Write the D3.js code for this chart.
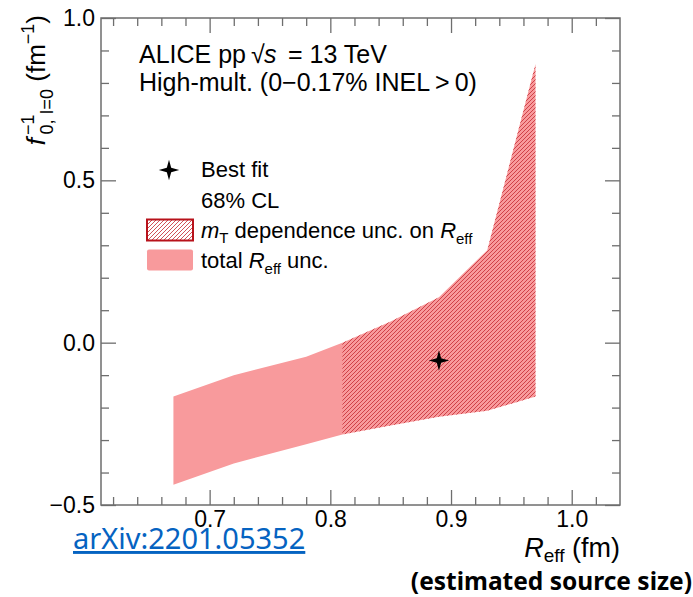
<!DOCTYPE html>
<html>
<head>
<meta charset="utf-8">
<script src="https://cdn.jsdelivr.net/npm/d3@7"></script>
<style>
  body { margin: 0; background: #fff; }
  svg { display: block; }
</style>
</head>
<body>
<div id="chart"></div>
<script>
// Band edges (R_eff in fm, 1/f0 in 1/fm)
const reff = [0.67, 0.72, 0.78, 0.81, 0.85, 0.89, 0.93, 0.97];
const upperEdge = [-0.166, -0.10, -0.043, 0.0, 0.065, 0.14, 0.285, 0.858];
const lowerEdge = [-0.438, -0.372, -0.313, -0.283, -0.255, -0.228, -0.21, -0.166];
const mtStart = 0.81; // hatched part starts here
const bestFit = [{ x: 0.89, y: -0.055 }];

const xMajor = [0.7, 0.8, 0.9, 1.0];
const yMajor = [-0.5, 0.0, 0.5, 1.0];
const xMinor = [0.62, 0.64, 0.66, 0.68, 0.72, 0.74, 0.76, 0.78, 0.82, 0.84, 0.86, 0.88, 0.92, 0.94, 0.96, 0.98, 1.02];
const yMinor = [-0.4, -0.3, -0.2, -0.1, 0.1, 0.2, 0.3, 0.4, 0.6, 0.7, 0.8, 0.9];

const W = 693, H = 597;
const margin = { top: 18, right: 73, bottom: 92, left: 101 };
const innerW = W - margin.left - margin.right;
const innerH = H - margin.top - margin.bottom;

const svg = d3.select("#chart").append("svg")
    .attr("width", W)
    .attr("height", H)
    .style("font-family", "'Liberation Sans', Arial, sans-serif");

const defs = svg.append("defs");
const pat = defs.append("pattern")
    .attr("id", "hatch")
    .attr("patternUnits", "userSpaceOnUse")
    .attr("width", 4)
    .attr("height", 4);
pat.append("path")
    .attr("d", "M-1,1 L1,-1 M0,4 L4,0 M3,5 L5,3")
    .attr("stroke", "#c8323a")
    .attr("stroke-width", 0.85);

const x = d3.scaleLinear().domain([0.61, 1.04]).range([0, innerW]);
const y = d3.scaleLinear().domain([-0.5, 1.0]).range([innerH, 0]);

const g = svg.append("g").attr("transform", `translate(${margin.left},${margin.top})`);

const band = reff.map((r, i) => ({ r, hi: upperEdge[i], lo: lowerEdge[i] }));
const area = d3.area()
    .x(d => x(d.r))
    .y0(d => y(d.lo))
    .y1(d => y(d.hi));

const pink = "#f89a9c";

// total R_eff unc.
g.append("path")
    .datum(band)
    .attr("d", area)
    .attr("fill", pink);

// m_T dependence part, hatched
g.append("path")
    .datum(band.filter(d => d.r >= mtStart))
    .attr("d", area)
    .attr("fill", "url(#hatch)");

// 4-pointed star marker
const star4 = {
    draw(ctx, size) {
        const R = Math.sqrt(size) / 2, r = R * 0.3;
        for (let k = 0; k < 8; k++) {
            const a = k * Math.PI / 4 - Math.PI / 2;
            const rad = k % 2 === 0 ? R : r;
            if (k === 0) ctx.moveTo(rad * Math.cos(a), rad * Math.sin(a));
            else ctx.lineTo(rad * Math.cos(a), rad * Math.sin(a));
        }
        ctx.closePath();
    }
};

g.selectAll(".fit")
    .data(bestFit)
    .join("path")
    .attr("class", "fit")
    .attr("transform", d => `translate(${x(d.x)},${y(d.y)})`)
    .attr("d", d3.symbol().type(star4).size(420))
    .attr("fill", "#000");

// axes
const axisColor = "#6e6e6e";
function styleAxis(sel) {
    sel.select(".domain").remove();
    sel.selectAll("line").attr("stroke", axisColor).attr("stroke-width", 1.3);
    sel.selectAll("text").attr("fill", "#000").style("font-size", "23px")
        .style("font-family", "'Liberation Sans', Arial, sans-serif");
}
const fmtX = d3.format(".1f");
const fmtY = d => d3.format(".1f")(d).replace("-", "\u2212");

g.append("g").attr("transform", `translate(0,${innerH})`)
    .call(d3.axisBottom(x).tickValues(xMajor).tickSize(-15).tickPadding(6).tickFormat(fmtX))
    .call(styleAxis);
g.append("g").attr("transform", `translate(0,${innerH})`)
    .call(d3.axisBottom(x).tickValues(xMinor).tickSize(-8).tickFormat(""))
    .call(styleAxis);
g.append("g")
    .call(d3.axisTop(x).tickValues(xMajor).tickSize(-15).tickFormat(""))
    .call(styleAxis);
g.append("g")
    .call(d3.axisTop(x).tickValues(xMinor).tickSize(-8).tickFormat(""))
    .call(styleAxis);

g.append("g")
    .call(d3.axisLeft(y).tickValues(yMajor).tickSize(-15).tickPadding(6).tickFormat(fmtY))
    .call(styleAxis);
g.append("g")
    .call(d3.axisLeft(y).tickValues(yMinor).tickSize(-8).tickFormat(""))
    .call(styleAxis);
g.append("g").attr("transform", `translate(${innerW},0)`)
    .call(d3.axisRight(y).tickValues(yMajor).tickSize(-15).tickFormat(""))
    .call(styleAxis);
g.append("g").attr("transform", `translate(${innerW},0)`)
    .call(d3.axisRight(y).tickValues(yMinor).tickSize(-8).tickFormat(""))
    .call(styleAxis);

g.append("rect")
    .attr("width", innerW)
    .attr("height", innerH)
    .attr("fill", "none")
    .attr("stroke", axisColor)
    .attr("stroke-width", 1.5);

// header text
const head = svg.append("g").style("font-size", "25px");
const h1 = head.append("text").attr("y", 63);
h1.append("tspan").attr("x", 139).text("ALICE pp");
h1.append("tspan").attr("x", 251).text("\u221A");
h1.append("tspan").attr("x", 264).attr("font-style", "italic").text("s");
h1.append("tspan").attr("x", 288).text("= 13 TeV");
head.append("text").attr("x", 139).attr("y", 91)
    .text("High-mult. (0\u22120.17% INEL\u2009>\u20090)");

// legend
const leg = svg.append("g").style("font-size", "22px");
leg.append("path")
    .attr("transform", "translate(169,170)")
    .attr("d", d3.symbol().type(star4).size(420))
    .attr("fill", "#000");
leg.append("text").attr("x", 201).attr("y", 177).text("Best fit");
leg.append("text").attr("x", 201).attr("y", 208).text("68% CL");

leg.append("rect").attr("x", 147).attr("y", 219.5).attr("width", 46).attr("height", 21)
    .attr("fill", "#fff");
leg.append("rect").attr("x", 147).attr("y", 219.5).attr("width", 46).attr("height", 21)
    .attr("fill", "url(#hatch)").attr("stroke", "#b8121b").attr("stroke-width", 2);
const t3 = leg.append("text").attr("x", 201).attr("y", 238);
t3.append("tspan").attr("font-style", "italic").text("m");
t3.append("tspan").attr("font-size", "15px").attr("dy", 5).text("T");
t3.append("tspan").attr("dy", -5).text(" dependence unc. on ");
t3.append("tspan").attr("font-style", "italic").text("R");
t3.append("tspan").attr("font-size", "15px").attr("dy", 6).text("eff");

leg.append("rect").attr("x", 147).attr("y", 249.5).attr("width", 46).attr("height", 21)
    .attr("rx", 2).attr("fill", pink);
const t4 = leg.append("text").attr("x", 201).attr("y", 268);
t4.append("tspan").text("total ");
t4.append("tspan").attr("font-style", "italic").text("R");
t4.append("tspan").attr("font-size", "15px").attr("dy", 6).text("eff");
t4.append("tspan").attr("dy", -6).text(" unc.");

// axis titles
const yt = svg.append("text")
    .attr("transform", "translate(45,15) rotate(-90)")
    .attr("text-anchor", "end")
    .style("font-size", "26px");
yt.append("tspan").attr("font-style", "italic").text("f");
yt.append("tspan").attr("font-size", "18px").attr("dy", -11).attr("dx", 3).text("\u22121");
yt.append("tspan").attr("font-size", "18px").attr("dy", 19).attr("dx", -20).text("0, I=0");
yt.append("tspan").attr("dy", -8).text(" (fm");
yt.append("tspan").attr("font-size", "18px").attr("dy", -11).text("\u22121");
yt.append("tspan").attr("dy", 11).text(")");

const xt = svg.append("text")
    .attr("x", 620).attr("y", 557)
    .attr("text-anchor", "end")
    .style("font-size", "27px");
xt.append("tspan").attr("font-style", "italic").text("R");
xt.append("tspan").attr("font-size", "19px").attr("dy", 5).text("eff");
xt.append("tspan").attr("dy", -5).text(" (fm)");

svg.append("text")
    .attr("x", 692).attr("y", 590)
    .attr("text-anchor", "end")
    .style("font-family", "'Noto Sans', 'Open Sans', sans-serif")
    .style("font-weight", "bold")
    .style("font-size", "24.5px")
    .text("(estimated source size)");

svg.append("text")
    .attr("x", 73).attr("y", 549)
    .style("font-family", "'Noto Sans', 'Open Sans', sans-serif")
    .style("font-size", "29px")
    .attr("fill", "#0563c1")
    .attr("text-decoration", "underline")
    .text("arXiv:2201.05352");
</script>
</body>
</html>
